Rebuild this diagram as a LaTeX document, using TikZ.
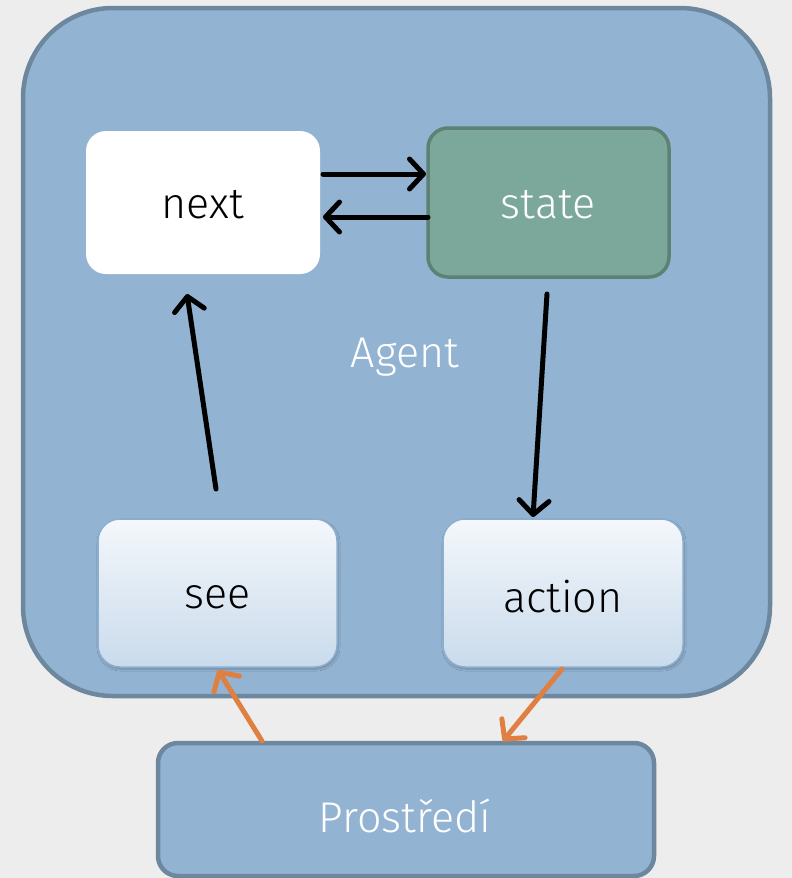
\documentclass[tikz,border=0pt]{standalone}
\usepackage{fontspec}
\setmainfont{Fira Sans Light}
\usetikzlibrary{arrows.meta,shadows.blur}
\definecolor{pagebg}{HTML}{EDEDED}
\definecolor{agentfill}{HTML}{93B3D2}
\definecolor{agentline}{HTML}{6D889E}
\definecolor{statefill}{HTML}{7BA89A}
\definecolor{stateline}{HTML}{5D8173}
\definecolor{boxtop}{HTML}{F4F7FB}
\definecolor{boxbottom}{HTML}{C9DBEC}
\definecolor{boxline}{HTML}{8CAFCF}
\definecolor{flow}{HTML}{E07F42}
\tikzset{
  x=1pt, y=-1pt,
  lbl/.style={font=\fontsize{43}{48}\selectfont},
  bigbox/.style={draw=agentline, line width=4.5pt, fill=agentfill},
  nextbox/.style={fill=white, rounded corners=20pt},
  statebox/.style={draw=stateline, line width=3.5pt, fill=statefill, rounded corners=20pt},
  iobox/.style={draw=boxline, line width=1.5pt, top color=boxtop, bottom color=boxbottom,
    rounded corners=22pt, blur shadow={shadow xshift=1pt, shadow yshift=-2pt, shadow blur steps=6, shadow opacity=25}},
  link/.style={line width=5pt, line cap=round, -{Straight Barb[length=14pt,width=30pt,line width=5pt,round]}},
  orangelink/.style={link, draw=flow}
}
\begin{document}
\begin{tikzpicture}
  \useasboundingbox (0,0) rectangle (792,878);
  \fill[pagebg] (0,0) rectangle (792,878);

  % the agent
  \draw[bigbox, rounded corners=90pt] (23,8) rectangle (770,696);
  \node[text=white, lbl] (agent) at (405,357) {Agent};

  % the environment
  \draw[bigbox, rounded corners=20pt] (158,743) rectangle (654,876);
  \node[text=white, lbl] (env) at (405,816) {Prostředí};

  % inner components
  \path[nextbox] (86,131) rectangle (320,274);
  \node[lbl] (next) at (203,205) {next};
  \coordinate (nextE1) at (323,174);
  \coordinate (nextE2) at (323,217);
  \coordinate (nextS) at (187,294);

  \path[statebox] (428,128) rectangle (669,277);
  \node[lbl, text=white] (state) at (548,205) {state};
  \coordinate (stateW1) at (426,174);
  \coordinate (stateW2) at (428,217);
  \coordinate (stateS) at (547,294);

  \path[iobox] (98,519) rectangle (337,667);
  \node[lbl] (see) at (217.5,597) {see};
  \coordinate (seeN) at (216,489);
  \coordinate (seeS) at (218,670);

  \path[iobox] (443,519) rectangle (683,667);
  \node[lbl] (action) at (563,597) {action};
  \coordinate (actionN) at (533,517);
  \coordinate (actionS) at (562,669);

  \coordinate (envNW) at (262,741);
  \coordinate (envNE) at (503,741);

  % flows
  \draw[link] (nextE1) -- (stateW1);
  \draw[link] (stateW2) -- (nextE2);
  \draw[link] (seeN) -- (nextS);
  \draw[link] (stateS) -- (actionN);
  \draw[orangelink] (envNW) -- (seeS);
  \draw[orangelink] (actionS) -- (envNE);
\end{tikzpicture}
\end{document}
